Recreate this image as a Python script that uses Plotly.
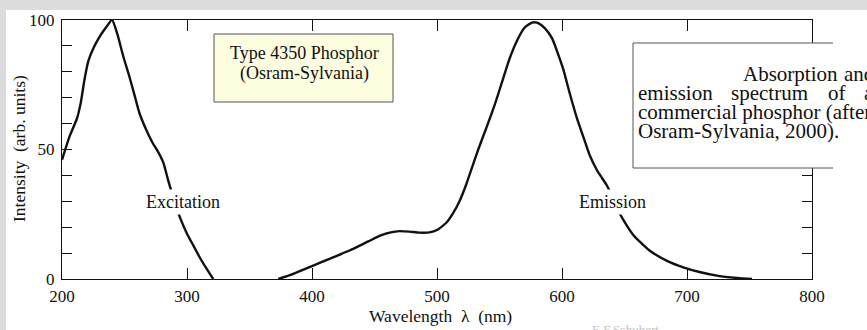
import plotly.graph_objects as go

# ---------------- data ----------------
exc_wavelength = [200, 206, 212, 215, 218, 221, 225, 230, 235, 240, 244, 249, 254, 258, 262, 267, 272, 277,
                  281, 285, 290, 295, 300, 305, 310, 315, 321]
exc_intensity = [46, 55, 62, 68, 77, 84, 89, 93.5, 97, 100, 95, 86, 78, 71, 64, 58, 53, 49,
                 45, 38, 30, 23, 17.5, 13, 8.5, 4.5, 0]

emi_wavelength = [373, 385, 400, 415, 430, 445, 455, 463, 470, 478, 486, 494, 500, 508, 513, 518, 523, 528,
                  533, 540, 546, 552, 558, 564, 570, 576, 580, 586, 592, 596, 601, 606, 612, 617, 622, 628,
                  632, 636, 641, 646, 652, 657, 662, 670, 684, 697, 710, 725, 740, 752]
emi_intensity = [0, 2, 5, 8, 11, 14.5, 16.8, 18, 18.5, 18.3, 17.9, 18, 18.9, 22, 25.5, 30, 36, 43,
                 50, 59, 67, 76, 85, 92, 97, 99, 99, 97, 93, 88, 81, 72, 62, 55, 48, 42,
                 39, 36, 31, 25.5, 20.5, 17, 14.5, 11, 7, 4.5, 2.7, 1.2, 0.4, 0]

x_tickvals = [200, 300, 400, 500, 600, 700, 800]
x_ticktext = ["200", "300", "400", "500", "600", "700", "800"]
y_tickvals = [0, 10, 20, 30, 40, 50, 60, 70, 80, 90, 100]
y_ticktext = ["0", "", "", "", "", "50", "", "", "", "", "100"]

# ---------------- layout geometry ----------------
W, H = 867, 330
L, R, T, B = 62, 812, 20, 279
PW, PH = R - L, B - T


def px(x):
    return (x - L) / PW


def py(y):
    return (B - y) / PH


SERIF = "Liberation Serif"
BLACK = "#111111"

fig = go.Figure()
for xs, ys in ((exc_wavelength, exc_intensity), (emi_wavelength, emi_intensity)):
    fig.add_trace(go.Scatter(x=xs, y=ys, mode="lines",
                             line=dict(color=BLACK, width=2.4, shape="spline", smoothing=0.6),
                             hoverinfo="skip", showlegend=False))

shapes = [
    # grey frame bands
    dict(type="rect", xref="paper", yref="paper", x0=px(0), x1=px(6), y0=py(H), y1=py(0),
         fillcolor="#dcdcdc", line=dict(width=0), layer="below"),
    dict(type="rect", xref="paper", yref="paper", x0=px(0), x1=px(W), y0=py(10), y1=py(0),
         fillcolor="#dcdcdc", line=dict(width=0), layer="below"),
    # yellow label box
    dict(type="rect", xref="paper", yref="paper", x0=px(214), x1=px(393), y0=py(102), y1=py(34),
         fillcolor="#fdfde0", line=dict(color="#555555", width=1), layer="above"),
    # caption box (white, covering the right axis)
    dict(type="rect", xref="paper", yref="paper", x0=px(633), x1=px(880), y0=py(168), y1=py(43),
         fillcolor="white", line=dict(width=0), layer="above"),
    dict(type="line", xref="paper", yref="paper", x0=px(633), x1=px(833), y0=py(43), y1=py(43),
         line=dict(color="#555555", width=1), layer="above"),
    dict(type="line", xref="paper", yref="paper", x0=px(633), x1=px(833), y0=py(168), y1=py(168),
         line=dict(color="#555555", width=1), layer="above"),
    dict(type="line", xref="paper", yref="paper", x0=px(633), x1=px(633), y0=py(168), y1=py(43),
         line=dict(color="#555555", width=1), layer="above"),
]

annotations = []


def txt(text, x, y, size, xanchor="center", yanchor="middle", color=BLACK, **kw):
    annotations.append(dict(text=text, xref="paper", yref="paper", x=px(x), y=py(y),
                            xanchor=xanchor, yanchor=yanchor, showarrow=False,
                            font=dict(family=SERIF, size=size, color=color), **kw))


# curve labels (white background hides curve)
txt("Excitation", 183, 202, 18, bgcolor="white", borderpad=2)
txt("Emission", 612, 202, 18, bgcolor="white", borderpad=2)

# yellow box text
txt("Type 4350 Phosphor", 304, 53, 18)
txt("(Osram-Sylvania)", 304, 73, 18)

# caption text (justified, clipped at right edge)
cap = 21
txt("Absorption", 741, 74, cap, xanchor="left")
txt("and", 842, 74, cap, xanchor="left")
txt("emission", 636, 93, cap, xanchor="left")
txt("spectrum", 729, 93, cap, xanchor="left")
txt("of", 826, 93, cap, xanchor="left")
txt("a", 862, 93, cap, xanchor="left")
txt("commercial phosphor (after", 636, 112, cap, xanchor="left")
txt("Osram-Sylvania, 2000).", 636, 131, cap, xanchor="left")

# axis titles
txt("Wavelength  \u03bb  (nm)", 440, 316, 17.5)
txt("Intensity  (arb. units)", 19, 149, 17.5, textangle=-90)

# watermark
txt("E.F.Schubert", 590, 320, 13, xanchor="left", yanchor="top", color="#c4c4c4")

axis_common = dict(showgrid=False, zeroline=False, showline=True, linecolor=BLACK, linewidth=1.4,
                   ticks="inside", tickcolor=BLACK, tickwidth=1.3, mirror="ticks",
                   tickfont=dict(family=SERIF, size=17, color=BLACK), fixedrange=True)

fig.update_layout(
    width=W, height=H,
    margin=dict(l=L, r=W - R, t=T, b=H - B, pad=0),
    paper_bgcolor="white", plot_bgcolor="white",
    xaxis=dict(range=[200, 800], tickmode="array", tickvals=x_tickvals, ticktext=x_ticktext,
               ticklen=11, ticklabelstandoff=1, **axis_common),
    yaxis=dict(range=[0, 100], tickmode="array", tickvals=y_tickvals, ticktext=y_ticktext,
               ticklen=10, ticklabelstandoff=3, **axis_common),
    shapes=shapes, annotations=annotations, showlegend=False,
)

fig.write_html("out.html")
